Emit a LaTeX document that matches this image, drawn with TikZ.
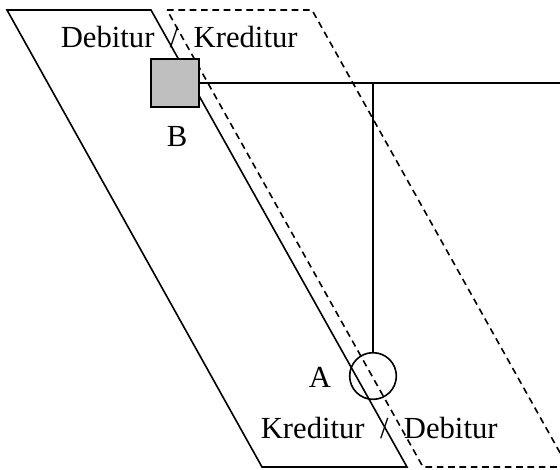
\documentclass[tikz,border=0pt]{standalone}
\usepackage{fontspec}
\setmainfont{Liberation Serif}
\begin{document}
\begin{tikzpicture}[x=0.75pt, y=-0.75pt, line width=1.2pt, font=\fontsize{23}{27}\selectfont]
  \useasboundingbox (0,0) rectangle (560,469);
  \draw[dash pattern=on 5pt off 3.5pt] (167,10) -- (312,10) -- (568,467) -- (423,467) -- cycle;
  \draw (7,10) -- (151,10) -- (407,467) -- (262,467) -- cycle;
  \node[draw, fill=gray!50, minimum size=36pt, inner sep=0pt] (B) at (175,83) {};
  \node[anchor=base] (Blabel) at (177,146) {B};
  \node[draw, circle, minimum size=35pt, inner sep=0pt] (A) at (373,376) {};
  \node[anchor=base] (Alabel) at (320,387) {A};
  \coordinate (E) at (560,83);
  \draw (B.east) -- (E);
  \draw (A.north) -- (A.north |- B.east);
  \node[anchor=base west, inner sep=0pt] (top) at (60,47) {Debitur\enspace/\enspace Kreditur};
  \node[anchor=base west, inner sep=0pt] (bottom) at (260,438) {Kreditur\enspace/\enspace Debitur};
\end{tikzpicture}
\end{document}
